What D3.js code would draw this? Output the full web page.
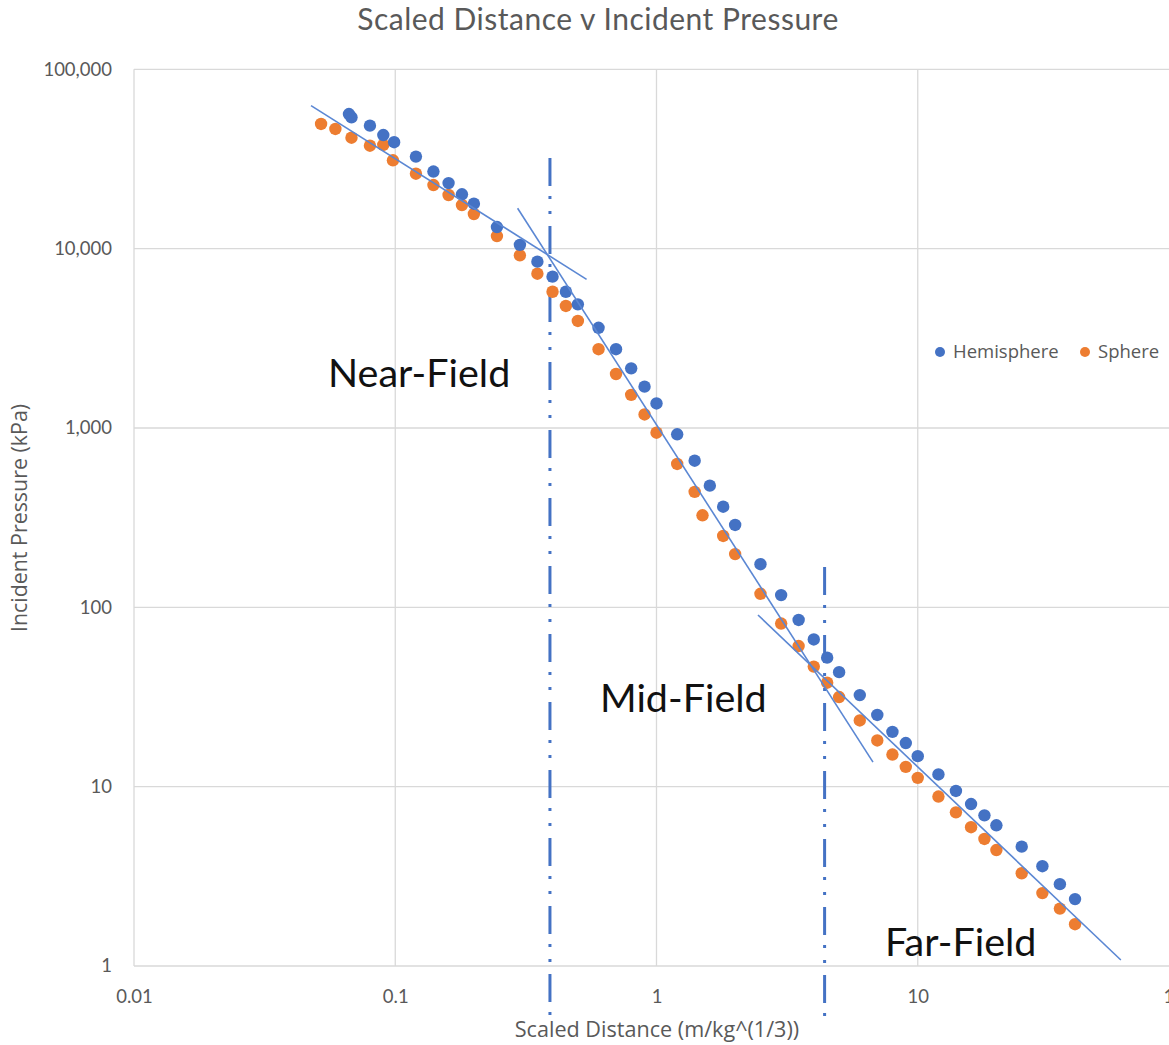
<!DOCTYPE html>
<html lang="en">
<head>
    <meta charset="UTF-8">
    <title>Scaled Distance v Incident Pressure</title>
    <script src="https://d3js.org/d3.v7.min.js"></script>
    <style>
        body { margin: 0; background: #fff; }
        text { font-family: Lato, "Noto Sans", sans-serif; }
    </style>
</head>
<body>
</body>
<script>
    // values (scaled distance m/kg^(1/3), incident pressure kPa)
    const hemiX = [0.0665, 0.068, 0.08, 0.09, 0.099, 0.12, 0.14, 0.16, 0.18, 0.2, 0.245, 0.3, 0.35, 0.4, 0.45, 0.5,
        0.6, 0.7, 0.8, 0.9, 1.0, 1.2, 1.4, 1.6, 1.8, 2.0, 2.5, 3, 3.5, 4, 4.5, 5, 6, 7, 8, 9, 10, 12, 14, 16, 18, 20,
        25, 30, 35, 40];
    const hemiY = [56300, 54000, 48500, 43000, 39200, 32600, 26900, 23200, 20100, 17800, 13200, 10500, 8460, 6980,
        5750, 4890, 3620, 2750, 2150, 1700, 1370, 922, 657, 477, 364, 288, 174, 117, 85, 66.2, 52.4, 43.5, 32.4, 25.1,
        20.2, 17.5, 14.8, 11.7, 9.46, 8.0, 6.92, 6.09, 4.63, 3.6, 2.86, 2.36];
    const sphereX = [0.052, 0.059, 0.068, 0.08, 0.09, 0.098, 0.12, 0.14, 0.16, 0.18, 0.2, 0.245, 0.3, 0.35, 0.4, 0.45,
        0.5, 0.6, 0.7, 0.8, 0.9, 1.0, 1.2, 1.4, 1.5, 1.8, 2.0, 2.5, 3, 3.5, 4, 4.5, 5, 6, 7, 8, 9, 10, 12, 14, 16, 18,
        20, 25, 30, 35, 40];
    const sphereY = [49550, 46470, 41550, 37500, 37840, 31080, 26180, 22630, 19910, 17510, 15600, 11760, 9180, 7250,
        5750, 4790, 3950, 2750, 2000, 1530, 1190, 941, 630, 440, 326, 250, 198, 119, 81.2, 60.8, 46.7, 38.0, 31.6, 23.4,
        18.1, 15.1, 12.9, 11.2, 8.81, 7.19, 5.94, 5.11, 4.43, 3.29, 2.55, 2.09, 1.71];

    const seriesNames = ["Hemisphere", "Sphere"];
    const xTicks = [0.01, 0.1, 1, 10, 100];
    const yTicks = [1, 10, 100, 1000, 10000, 100000];

    // hand drawn fit lines: [x0, y0], [x1, y1]
    const trendLines = [
        [[0.0476, 62700], [0.54, 6745]],
        [[0.294, 16790], [6.74, 13.7]],
        [[2.446, 90.6], [59.9, 1.08]]
    ];
    // field boundaries (x value, top y value), both run down past the axis
    const boundaryX = [0.391, 4.40];
    const boundaryTop = [32000, 168];
    const boundaryBottom = 0.52;
    const regionNames = ["Near-Field", "Mid-Field", "Far-Field"];

    const WIDTH = 1169, HEIGHT = 1045;
    const BLUE = "#4472C4", ORANGE = "#ED7D31", GREY = "#595959", GRID = "#d9d9d9";

    const x = d3.scaleLog().domain([0.01, 100]).range([134, 1179]);
    const y = d3.scaleLog().domain([1, 100000]).range([966, 69.3]);

    const svg = d3.select("body").append("svg").attr("width", WIDTH).attr("height", HEIGHT);

    // title
    svg.append("text").text("Scaled Distance v Incident Pressure")
        .attr("x", 598).attr("y", 30).attr("text-anchor", "middle")
        .style("font-size", "30px").style("letter-spacing", "0.5px").style("fill", GREY);

    // grid
    svg.append("g").selectAll("line").data(yTicks).join("line")
        .attr("x1", x(0.01)).attr("x2", x(100)).attr("y1", d => y(d)).attr("y2", d => y(d))
        .attr("stroke", GRID).attr("stroke-width", 1.3);
    svg.append("g").selectAll("line").data(xTicks).join("line")
        .attr("x1", d => x(d)).attr("x2", d => x(d)).attr("y1", y(1)).attr("y2", y(100000))
        .attr("stroke", GRID).attr("stroke-width", 1.3);

    // axes (labels only)
    let yAxis = svg.append("g").attr("transform", `translate(${x(0.01)},0)`)
        .call(d3.axisLeft(y).tickValues(yTicks).tickFormat(d3.format(",")).tickSize(0).tickPadding(22));
    let xAxis = svg.append("g").attr("transform", `translate(0,${y(1)})`)
        .call(d3.axisBottom(x).tickValues(xTicks).tickFormat(d => String(d)).tickSize(0).tickPadding(24));
    [yAxis, xAxis].forEach(a => {
        a.select(".domain").remove();
        a.selectAll("text").style("font-size", "18.5px").style("fill", GREY).style("font-family", "Lato");
    });

    svg.append("text").text("Scaled Distance (m/kg^(1/3))")
        .attr("x", 657).attr("y", 1037).attr("text-anchor", "middle")
        .style("font-size", "21.6px").style("fill", GREY).style("font-family", "'Open Sans'");
    svg.append("text").text("Incident Pressure (kPa)")
        .attr("transform", "translate(27,518) rotate(-90)").attr("text-anchor", "middle")
        .style("font-size", "21.4px").style("fill", GREY).style("font-family", "'Open Sans'");

    // boundaries
    svg.append("g").selectAll("line").data(boundaryX).join("line")
        .attr("x1", d => x(d)).attr("x2", d => x(d))
        .attr("y1", (d, i) => y(boundaryTop[i])).attr("y2", y(boundaryBottom))
        .attr("stroke", BLUE).attr("stroke-width", 3)
        .attr("stroke-dasharray", "28,10,3,12,3,12");

    // points
    const hemi = hemiX.map((d, i) => [d, hemiY[i]]);
    const sphere = sphereX.map((d, i) => [d, sphereY[i]]);
    svg.append("g").selectAll("circle").data(sphere).join("circle")
        .attr("cx", d => x(d[0])).attr("cy", d => y(d[1])).attr("r", 6.2).attr("fill", ORANGE);
    svg.append("g").selectAll("circle").data(hemi).join("circle")
        .attr("cx", d => x(d[0])).attr("cy", d => y(d[1])).attr("r", 6.2).attr("fill", BLUE);

    // fit lines
    svg.append("g").selectAll("line").data(trendLines).join("line")
        .attr("x1", d => x(d[0][0])).attr("y1", d => y(d[0][1]))
        .attr("x2", d => x(d[1][0])).attr("y2", d => y(d[1][1]))
        .attr("stroke", "#5b87d3").attr("stroke-width", 1.6);

    // region labels
    const regionPos = [[328, 387], [600, 712], [885, 956]];
    svg.append("g").selectAll("text").data(regionNames).join("text")
        .text(d => d).attr("x", (d, i) => regionPos[i][0]).attr("y", (d, i) => regionPos[i][1])
        .style("font-size", "39.5px").style("fill", "#111");

    // legend
    const legend = svg.append("g").attr("transform", "translate(940,352)");
    seriesNames.forEach((name, i) => {
        let g = legend.append("g").attr("transform", `translate(${i * 145},0)`);
        g.append("circle").attr("r", 5).attr("fill", i === 0 ? BLUE : ORANGE);
        g.append("text").text(name).attr("x", 13).attr("dy", "0.35em")
            .style("font-size", "18.5px").style("fill", GREY).style("font-family", "'Open Sans'");
    });
</script>
</html>
